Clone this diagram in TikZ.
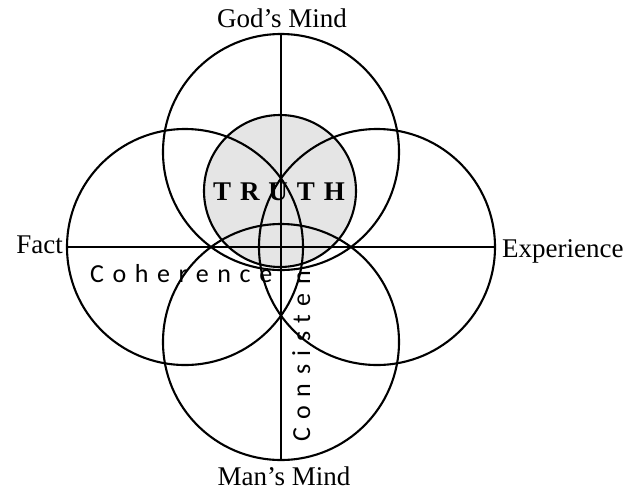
\documentclass[tikz,border=0pt]{standalone}
\usepackage{fontspec}
\setmainfont{Liberation Serif}
\newfontfamily\spacedfont[LetterSpace=33]{Carlito}
\newfontfamily\truthfont[LetterSpace=33]{Liberation Serif}
\begin{document}
\begin{tikzpicture}[x=1pt,y=-1pt,
  ring/.style={circle,draw,line width=2.1pt,inner sep=0pt,minimum size=236pt},
  axis/.style={line width=2.7pt},
  lbl/.style={inner sep=0pt,font=\fontsize{27}{30}\selectfont},
  spaced/.style={inner sep=0pt,font=\fontsize{26}{30}\spacedfont}]
\useasboundingbox (0,0) rectangle (627,491);
% vertical label first so that the shading hides its end
\node[spaced,rotate=90,anchor=base west] (cons) at (310,442) {Consistency};
\node[circle,fill=gray!20,draw,line width=2.1pt,inner sep=0pt,minimum size=152pt] (truthc) at (280,191) {};
\node[ring] (god) at (281,152) {};
\node[ring] (man) at (281,342) {};
\node[ring] (fact) at (185,247) {};
\node[ring] (exp) at (377,247) {};
\draw[axis] (god.north) -- (man.south);
\draw[axis] (fact.west) -- (exp.east);
\node[spaced,anchor=base west] (coh) at (90,282) {Coherence};
\node[inner sep=0pt,anchor=base west,font=\fontsize{27}{30}\truthfont\bfseries] (truth) at (213,200) {TRUTH};
\node[lbl,anchor=base] (godl) at (282,27) {God's Mind};
\node[lbl,anchor=base] (manl) at (284,485) {Man's Mind};
\node[lbl,anchor=base east] (factl) at (63,253) {Fact};
\node[lbl,anchor=base west] (expl) at (502,257) {Experience};
\end{tikzpicture}
\end{document}
